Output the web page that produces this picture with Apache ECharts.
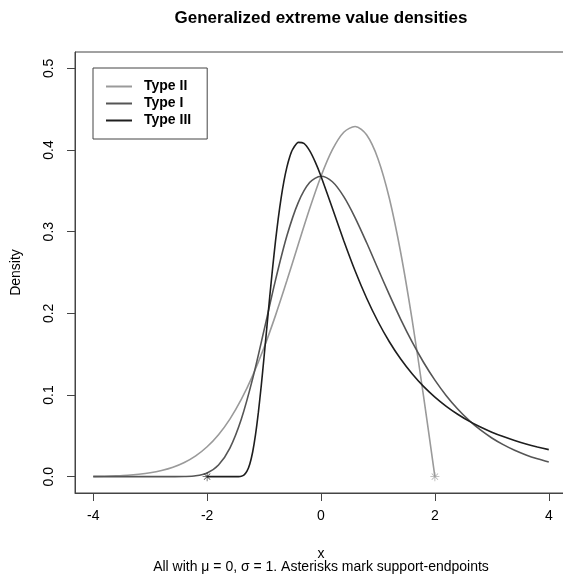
<!DOCTYPE html>
<html>
<head>
<meta charset="utf-8">
<script src="https://cdn.jsdelivr.net/npm/echarts@6/dist/echarts.min.js"></script>
<style>
  html, body { margin: 0; padding: 0; background: #fff; overflow: hidden; }
  /* plot box runs a few px past the right edge of the window, like the original */
  #gevChart { width: 568px; height: 574px; }
</style>
</head>
<body>
<div id="gevChart"></div>
<script>
  // x positions shared by Type I and Type II
  var xGrid = [-4, -3.8, -3.6, -3.4, -3.2, -3, -2.8, -2.6, -2.4, -2.2, -2, -1.8, -1.6, -1.4, -1.2, -1, -0.8, -0.6, -0.4, -0.2,
               0, 0.2, 0.4, 0.6, 0.8, 1, 1.2, 1.4, 1.6, 1.8, 2, 2.2, 2.4, 2.6, 2.8, 3, 3.2, 3.4, 3.6, 3.8, 4];
  var typeIDens = [0, 0, 0, 0, 0, 0, 0, 0.00002, 0.00018, 0.00109, 0.00457, 0.01426, 0.0350, 0.0703, 0.1200, 0.1794, 0.2404, 0.2946, 0.3356, 0.3601,
                   0.3679, 0.3611, 0.3429, 0.3170, 0.2867, 0.2546, 0.2229, 0.1927, 0.1650, 0.1401, 0.1182, 0.0992, 0.0829, 0.0690, 0.0572, 0.0474, 0.0392, 0.0323, 0.0266, 0.0219, 0.0180];
  // Type II stops at its upper endpoint x = 2
  var typeIIDens = [0.0004, 0.0006, 0.0011, 0.0018, 0.0030, 0.0048, 0.0076, 0.0116, 0.0174, 0.0255, 0.0366, 0.0514, 0.0705, 0.0945, 0.1237, 0.1581, 0.1972, 0.2398, 0.2843, 0.3280,
                    0.3679, 0.4004, 0.4218, 0.4288, 0.4186, 0.3894, 0.3409, 0.2742, 0.1922, 0.0990, 0];
  // Type III starts at its lower endpoint x = -2
  var xTypeIII = [-2, -1.8, -1.6, -1.5, -1.45, -1.4, -1.35, -1.3, -1.25, -1.2, -1.15, -1.1, -1.05, -1, -0.95, -0.9, -0.85, -0.8, -0.75, -0.7, -0.65, -0.6, -0.55, -0.5,
                  -0.4, -0.3, -0.2, -0.1, 0, 0.2, 0.4, 0.6, 0.8, 1, 1.2, 1.4, 1.6, 1.8, 2, 2.2, 2.4, 2.6, 2.8, 3, 3.2, 3.4, 3.6, 3.8, 4];
  var typeIIIDens = [0, 0, 0, 0.00001, 0.00009, 0.00055, 0.00226, 0.00665, 0.0155, 0.0302, 0.0514, 0.0787, 0.1109, 0.1465, 0.1836, 0.2204, 0.2554, 0.2879, 0.3166, 0.3414, 0.3622, 0.3787, 0.3915, 0.4005,
                     0.4093, 0.4081, 0.3992, 0.3851, 0.3679, 0.3288, 0.2890, 0.2519, 0.2188, 0.1900, 0.1652, 0.1440, 0.1260, 0.1105, 0.0974, 0.0861, 0.0764, 0.0680, 0.0608, 0.0545, 0.0491, 0.0443, 0.0401, 0.0364, 0.0331];
  var xTicks = [-4, -2, 0, 2, 4];
  var yTicks = [0, 0.1, 0.2, 0.3, 0.4, 0.5];
  var endPointsIII = [[-2, 0]];
  var endPointsII = [[2, 0]];

  function pairs(xs, ys) {
    var out = [];
    for (var i = 0; i < ys.length; i++) out.push([xs[i], ys[i]]);
    return out;
  }

  var FONT = '"Liberation Sans", Arial, Helvetica, sans-serif';
  var colII = '#9a9a9a', colI = '#555555', colIII = '#1e1e1e', frame = '#444444';
  // R's pch = 8 asterisk
  var star = 'path://M9.2,0 L10.8,0 L10.8,20 L9.2,20 Z M0,9.2 L20,9.2 L20,10.8 L0,10.8 Z ' +
             'M2.4,3.5 L3.5,2.4 L17.6,16.5 L16.5,17.6 Z M16.5,2.4 L17.6,3.5 L3.5,17.6 L2.4,16.5 Z';

  var chart = echarts.init(document.getElementById('gevChart'), null, { renderer: 'canvas' });
  chart.setOption({
    animation: false,
    textStyle: { fontFamily: FONT },
    grid: { left: 75, right: 1, top: 52, bottom: 81, show: true, borderColor: frame, borderWidth: 1, backgroundColor: 'transparent' },
    legend: {
      orient: 'vertical', left: 93, top: 68,
      padding: [11, 16, 11, 13], itemGap: 2, itemWidth: 26, itemHeight: 2,
      icon: 'rect',
      borderColor: frame, borderWidth: 1, borderRadius: 0,
      textStyle: { fontFamily: FONT, fontSize: 14, lineHeight: 15, fontWeight: 'bold', color: '#000', padding: [0, 0, 0, 7] },
      data: ['Type II', 'Type I', 'Type III']
    },
    xAxis: {
      type: 'value', min: -4.32, max: 4.32,
      name: 'x', nameLocation: 'middle', nameGap: 54,
      nameTextStyle: { fontFamily: FONT, fontSize: 14, color: '#000' },
      axisLine: { show: true, onZero: false, lineStyle: { color: frame } },
      axisTick: { show: true, inside: false, length: 8, customValues: xTicks, lineStyle: { color: frame } },
      axisLabel: { margin: 16, fontSize: 14, color: '#000', customValues: xTicks },
      splitLine: { show: false }
    },
    yAxis: {
      type: 'value', min: -0.02, max: 0.52,
      name: 'Density', nameLocation: 'middle', nameGap: 52, nameRotate: 90,
      nameTextStyle: { fontFamily: FONT, fontSize: 14, color: '#000' },
      axisLine: { show: true, onZero: false, lineStyle: { color: frame } },
      axisTick: { show: true, inside: false, length: 8, customValues: yTicks, lineStyle: { color: frame } },
      axisLabel: { margin: 19, fontSize: 14, color: '#000', rotate: 90, customValues: yTicks,
                   formatter: function (v) { return v.toFixed(1); } },
      splitLine: { show: false }
    },
    graphic: [
      { type: 'text', x: 321, y: 18,
        style: { text: 'Generalized extreme value densities', font: 'bold 17px ' + FONT, fill: '#000',
                 textAlign: 'center', textVerticalAlign: 'middle' } },
      { type: 'text', x: 321, y: 567,
        style: { text: 'All with \u03bc = 0, \u03c3 = 1. Asterisks mark support-endpoints', font: '14px ' + FONT, fill: '#000',
                 textAlign: 'center', textVerticalAlign: 'middle' } }
    ],
    series: [
      { name: 'Type II', type: 'line', data: pairs(xGrid, typeIIDens), smooth: 0.3, symbol: 'none',
        lineStyle: { color: colII, width: 1.6 }, itemStyle: { color: colII } },
      { name: 'Type I', type: 'line', data: pairs(xGrid, typeIDens), smooth: 0.3, symbol: 'none',
        lineStyle: { color: colI, width: 1.6 }, itemStyle: { color: colI } },
      { name: 'Type III', type: 'line', data: pairs(xTypeIII, typeIIIDens), smooth: 0.2, symbol: 'none',
        lineStyle: { color: colIII, width: 1.6 }, itemStyle: { color: colIII } },
      { name: 'endII', type: 'scatter', data: endPointsII, symbol: star, symbolSize: 9,
        itemStyle: { color: colII }, z: 5 },
      { name: 'endIII', type: 'scatter', data: endPointsIII, symbol: star, symbolSize: 9,
        itemStyle: { color: colIII }, z: 5 }
    ]
  });
</script>
</body>
</html>
